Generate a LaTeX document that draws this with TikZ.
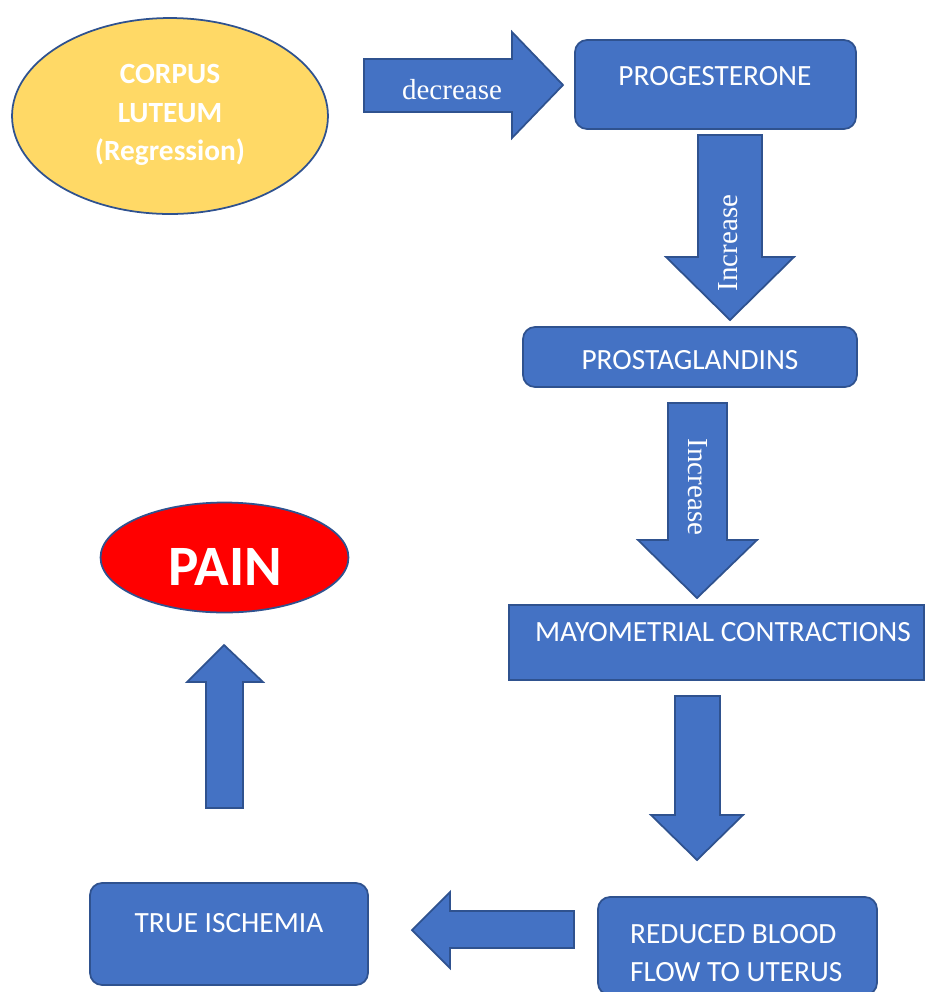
\documentclass[tikz,border=0pt]{standalone}
\usepackage{fontspec}
\setmainfont{Carlito}
\newfontfamily\serifword{Liberation Serif}
\usetikzlibrary{shapes.geometric,positioning}

\definecolor{boxblue}{HTML}{4472C4}
\definecolor{edgeblue}{HTML}{2F528F}
\definecolor{lutyellow}{HTML}{FFD966}
\definecolor{painred}{HTML}{FF0000}

\begin{document}
\begin{tikzpicture}[x=0.02cm, y=-0.02cm,
    every node/.style={font=\fontsize{16.7}{22}\selectfont, text=white},
    bluebox/.style={draw=edgeblue, fill=boxblue, line width=1pt, rounded corners=0.24cm},
    flatbox/.style={draw=edgeblue, fill=boxblue, line width=1pt},
    blobnode/.style={ellipse, draw=edgeblue, line width=1pt},
    blockarrow/.style={draw=edgeblue, fill=boxblue, line width=1pt, line join=miter},
    arrowword/.style={font=\serifword\fontsize{16.5}{20}\selectfont}]
    \useasboundingbox (0,0) rectangle (927,992);
    \clip (0,0) rectangle (927,992);

    % Ellipses
    \node[blobnode, fill=lutyellow, minimum width=6.32cm, minimum height=3.92cm] (corpus) at (170,116) {};
    \node[align=center, font=\bfseries\fontsize{16.7}{21.8}\selectfont] (corpustxt) at (170,115) {CORPUS\\LUTEUM\\(Regression)};
    \node[blobnode, fill=painred, minimum width=4.96cm, minimum height=2.2cm] (pain) at (224.5,557.5) {};
    \node[font=\bfseries\fontsize{32.5}{36}\selectfont] (paintxt) at (225,567) {PAIN};

    % Boxes
    \node[bluebox, minimum width=5.62cm, minimum height=1.78cm] (prog) at (715.5,84.5) {};
    \node (progtxt) at (715,76) {PROGESTERONE};
    \node[bluebox, minimum width=6.68cm, minimum height=1.2cm] (prost) at (690,357) {};
    \node (prosttxt) at (690,360) {PROSTAGLANDINS};
    \node[flatbox, minimum width=8.3cm, minimum height=1.5cm] (mayo) at (716.5,642.5) {};
    \node (mayotxt) at (723,632) {MAYOMETRIAL CONTRACTIONS};
    \node[bluebox, minimum width=5.58cm, minimum height=1.96cm] (reduced) at (737.5,946) {};
    \node[align=left, anchor=west] (reducedtxt) at (624,953) {REDUCED BLOOD\\FLOW TO UTERUS};
    \node[bluebox, minimum width=5.56cm, minimum height=2.04cm] (ischemia) at (229,934) {};
    \node (ischemiatxt) at (229,923) {TRUE ISCHEMIA};

    % Block arrows
    \draw[blockarrow] (364,59) -- (512,59) -- (512,32) -- (563,85) -- (512,138) -- (512,112) -- (364,112) -- cycle;
    \node[arrowword] (decrtxt) at (452,90) {decrease};

    \draw[blockarrow] (698,135) -- (762,135) -- (762,257) -- (794,257) -- (730,320) -- (666,257) -- (698,257) -- cycle;
    \node[arrowword, rotate=90] (incatxt) at (728,243) {Increase};

    \draw[blockarrow] (668,403) -- (727,403) -- (727,540) -- (757,540) -- (697,598) -- (638,540) -- (668,540) -- cycle;
    \node[arrowword, rotate=-90] (incbtxt) at (698,487) {Increase};

    \draw[blockarrow] (675,696) -- (720,696) -- (720,815) -- (743,815) -- (697,860) -- (651,815) -- (675,815) -- cycle;

    \draw[blockarrow] (574,911) -- (450,911) -- (450,892) -- (412,930) -- (450,968) -- (450,948) -- (574,948) -- cycle;

    \draw[blockarrow] (206,808) -- (206,682) -- (187,682) -- (224,645) -- (263,682) -- (243,682) -- (243,808) -- cycle;
\end{tikzpicture}
\end{document}
